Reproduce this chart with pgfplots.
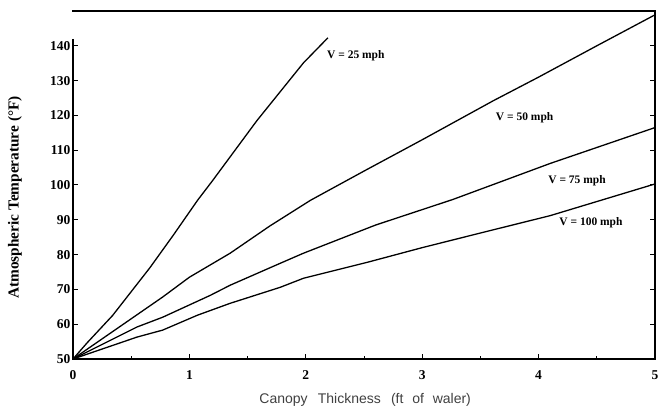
\documentclass[border=0pt]{standalone}
\usepackage{fontspec}
\setmainfont{Liberation Serif}
\newfontfamily\lsans{Liberation Sans}
\usepackage{pgfplots}
\pgfplotsset{compat=1.18}
\usetikzlibrary{calc}
\begin{document}
\begin{tikzpicture}
\begin{axis}[
  name=ax,
  width=582pt, height=348pt, scale only axis,
  xmin=0, xmax=5, ymin=50, ymax=150,
  clip=false,
  xtick={0,1,2,3,4,5},
  minor xtick={0.5,1.5,2.5,3.5,4.5},
  ytick={50,60,70,80,90,100,110,120,130,140},
  xtick pos=left, ytick pos=both,
  tick align=inside,
  major tick length=5pt, minor tick length=3pt,
  tick style={line width=1pt, black},
  axis line style={draw=none},
  /pgf/number format/assume math mode=true,
  ticklabel style={font=\fontsize{13.5}{13.5}\selectfont\bfseries},
  xticklabel style={yshift=-8pt},
  yticklabel style={xshift=1pt},
  xlabel={Canopy\hspace{0.45em} Thickness\hspace{0.45em} (ft\hspace{0.35em} of\hspace{0.35em} waler)},
  xlabel style={at={(axis description cs:0.502,-0.118)}, anchor=center, font=\lsans\fontsize{14}{14}\selectfont, text=black!75},
  ylabel={Atmospheric Temperature (°F)},
  ylabel style={at={(axis description cs:-0.0997,0.464)}, anchor=center, font=\fontsize{15.3}{15.3}\selectfont\bfseries},
]
\draw[line width=1.3pt] (axis cs:0,142) -- (axis cs:0,50) -- (axis cs:5,50) -- (axis cs:5,150) -- (axis cs:-0.01,150);
\addplot[black, line width=1.3pt] coordinates {
(0,50) (0.12,54.6) (0.34,62.5) (0.66,76.2) (0.86,85.5) (1.07,95.6) (1.2,101.3) (1.58,118.5) (1.98,135.1) (2.19,142.3)};
\addplot[black, line width=1.3pt] coordinates {
(0,50) (0.32,57.4) (0.77,67.8) (1.0,73.5) (1.35,80.4) (1.69,88.2) (2.04,95.6) (2.5,104) (3.0,113) (3.61,124.2) (4.0,131) (4.5,140) (5,148.9)};
\addplot[black, line width=1.3pt] coordinates {
(0,50) (0.55,59.2) (0.77,62) (1.18,68.3) (1.35,71.2) (1.78,77.5) (1.98,80.4) (2.6,88.5) (3.26,95.8) (4.1,106.2) (5,116.5)};
\addplot[black, line width=1.3pt] coordinates {
(0,50) (0.55,56.3) (0.77,58.3) (1.07,62.6) (1.35,66) (1.78,70.6) (1.98,73.2) (2.53,77.8) (3.0,82) (3.5,86.2) (4.1,91.2) (5,100.3)};
\node[font=\fontsize{11.5}{11.5}\selectfont\bfseries] at (axis cs:2.43,137.1) {V = 25 mph};
\node[font=\fontsize{11.5}{11.5}\selectfont\bfseries] at (axis cs:3.88,119.3) {V = 50 mph};
\node[font=\fontsize{11.5}{11.5}\selectfont\bfseries] at (axis cs:4.33,101.3) {V = 75 mph};
\node[font=\fontsize{11.5}{11.5}\selectfont\bfseries] at (axis cs:4.45,89.3) {V = 100 mph};
\end{axis}
\pgfresetboundingbox
\path ($(ax.south west)+(-73pt,-53pt)$) rectangle ($(ax.north east)+(13pt,11pt)$);
\end{tikzpicture}
\end{document}
